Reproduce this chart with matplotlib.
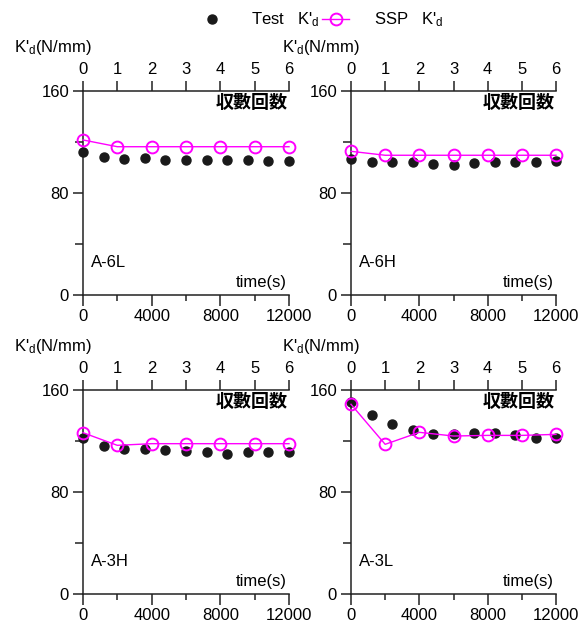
import matplotlib
matplotlib.use("Agg")
import matplotlib.pyplot as plt
from matplotlib import font_manager

names = {f.name for f in font_manager.fontManager.ttflist}
base = "Liberation Sans Narrow" if "Liberation Sans Narrow" in names else "Liberation Sans"
plt.rcParams['font.family'] = [base, 'DejaVu Sans']
plt.rcParams['mathtext.default'] = 'regular'
CJK = ['Noto Sans CJK JP', 'Noto Sans CJK SC']

# ---- data ----
test_time = [0, 1200, 2400, 3600, 4800, 6000, 7200, 8400, 9600, 10800, 12000]
ssp_time = [0, 2000, 4000, 6000, 8000, 10000, 12000]
panels = ["A-6L", "A-6H", "A-3H", "A-3L"]
test_vals = {
    "A-6L": [111.9, 108.0, 106.7, 107.2, 105.9, 105.9, 105.9, 105.9, 105.9, 104.9, 104.9],
    "A-6H": [106.4, 104.1, 104.1, 104.1, 103.0, 102.2, 103.3, 104.1, 104.1, 104.1, 104.9],
    "A-3H": [122.6, 116.3, 114.0, 114.0, 112.9, 111.9, 111.1, 110.0, 111.1, 111.1, 111.1],
    "A-3L": [150.8, 140.1, 133.3, 128.4, 125.2, 125.2, 126.3, 126.3, 124.4, 122.1, 122.1],
}
ssp_vals = {
    "A-6L": [121.6, 116.3, 116.3, 116.3, 116.3, 116.3, 116.3],
    "A-6H": [112.7, 109.6, 109.6, 109.6, 109.6, 109.6, 109.6],
    "A-3H": [126.5, 116.6, 117.9, 117.9, 117.9, 117.9, 117.9],
    "A-3L": [148.8, 117.4, 126.8, 123.9, 124.4, 124.4, 125.2],
}
y_ticks = [0, 80, 160]
y_minor = [40, 120]
x_ticks = [0, 4000, 8000, 12000]
x_minor = [2000, 6000, 10000]
cycle_ticks = [0, 1, 2, 3, 4, 5, 6]

W, H = 587, 626
fig = plt.figure(figsize=(W/100, H/100), dpi=100)

def rect(l, r, t, b):
    return [l/W, 1 - b/H, (r - l)/W, (b - t)/H]

rects = {
    "A-6L": rect(83, 289, 91, 295),
    "A-6H": rect(351, 556, 91, 295),
    "A-3H": rect(83, 289, 390, 594),
    "A-3L": rect(351, 556, 390, 594),
}

fs = 12
lw = 1.1
col = '#222222'
handles = None
for name in panels:
    ax = fig.add_axes(rects[name])
    ax.set_xlim(0, 12000)
    ax.set_ylim(0, 160)
    ax.spines['right'].set_visible(False)
    ax.spines['top'].set_visible(False)
    for s in ['left', 'bottom']:
        ax.spines[s].set_linewidth(lw)
        ax.spines[s].set_color(col)
    ax.set_yticks(y_ticks)
    ax.set_yticks(y_minor, minor=True)
    ax.set_xticks(x_ticks)
    ax.set_xticks(x_minor, minor=True)
    ax.tick_params(axis='y', which='major', direction='out', length=7, width=lw, labelsize=fs, pad=3, color=col)
    ax.tick_params(axis='y', which='minor', direction='out', length=6, width=lw, color=col)
    ax.tick_params(axis='x', which='major', direction='out', length=8, width=lw, labelsize=fs, pad=2, color=col)
    ax.tick_params(axis='x', which='minor', direction='out', length=4, width=lw, color=col)
    ax.set_xticklabels([str(v) for v in x_ticks])
    ax.set_yticklabels([str(v) for v in y_ticks])

    ax2 = ax.twiny()
    ax2.set_xlim(0, 6)
    ax2.set_xticks(cycle_ticks)
    for s in ['left', 'right', 'bottom']:
        ax2.spines[s].set_visible(False)
    ax2.spines['top'].set_linewidth(lw)
    ax2.spines['top'].set_color(col)
    ax2.tick_params(axis='x', direction='out', length=7, width=lw, labelsize=fs, pad=3, color=col)

    p1, = ax.plot(test_time, test_vals[name], 'o', color='#1a1a1a', markersize=6.5,
                  linestyle='none', zorder=3, clip_on=False)
    p2, = ax.plot(ssp_time, ssp_vals[name], '-o', color='#ff00ff', lw=1.0,
                  markerfacecolor='none', markeredgecolor='#ff00ff', markeredgewidth=1.4,
                  markersize=8.5, zorder=4, clip_on=False)
    handles = (p1, p2)

    ax.text(-0.335, 1.215, "K'$_d$(N/mm)", transform=ax.transAxes, fontsize=fs,
            ha='left', va='center')
    ax.text(0.995, 0.945, "収數回数", transform=ax.transAxes, fontsize=13,
            fontweight='bold', family=CJK, ha='right', va='center')
    ax.text(0.04, 0.16, name, transform=ax.transAxes, fontsize=fs, ha='left', va='center')
    ax.text(0.99, 0.06, "time(s)", transform=ax.transAxes, fontsize=fs, ha='right', va='center')

# legend drawn at top
fig.legend(handles, ["Test   K'$_d$", "SSP   K'$_d$"], loc='center',
           bbox_to_anchor=(321/W, 1 - 20/H), ncol=2, frameon=False, fontsize=fs,
           handlelength=1.6, handletextpad=1.5, columnspacing=0.2)

fig.savefig("out.png", dpi=100)
